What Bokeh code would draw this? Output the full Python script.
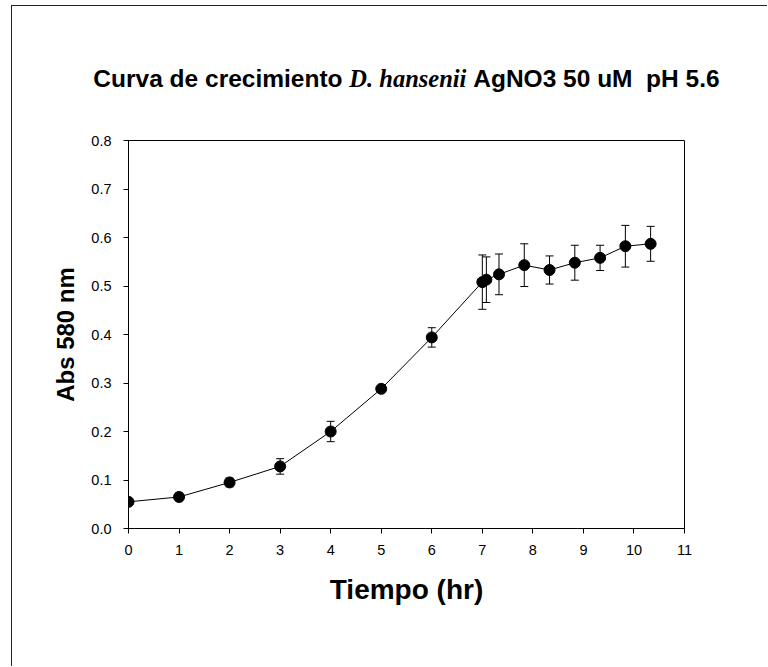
from bokeh.plotting import figure
from bokeh.models import (ColumnDataSource, Whisker, TeeHead, Label, FixedTicker,
                          NumeralTickFormatter, Range1d)
from bokeh.embed import file_html
from bokeh.resources import INLINE

# ---------------- data ----------------
tiempo = [0, 1, 2, 3, 4, 5, 6, 7.0, 7.08, 7.33, 7.83, 8.33, 8.83, 9.33, 9.83, 10.33]
absorbancia = [0.055, 0.065, 0.095, 0.128, 0.200, 0.288, 0.394, 0.508, 0.513,
               0.524, 0.543, 0.533, 0.548, 0.558, 0.582, 0.587]
error = [0.004, 0.008, 0.009, 0.016, 0.021, 0.005, 0.020, 0.056, 0.047,
         0.042, 0.044, 0.029, 0.036, 0.026, 0.043, 0.036]
x_ticks = [0, 1, 2, 3, 4, 5, 6, 7, 8, 9, 10, 11]
y_ticks = [0.0, 0.1, 0.2, 0.3, 0.4, 0.5, 0.6, 0.7, 0.8]
title_parts = ["Curva de crecimiento", "D. hansenii", "AgNO3 50 uM", "pH 5.6"]
x_label = "Tiempo (hr)"
y_label = "Abs 580 nm"

lower = [a - e for a, e in zip(absorbancia, error)]
upper = [a + e for a, e in zip(absorbancia, error)]
src = ColumnDataSource(dict(x=tiempo, y=absorbancia, lower=lower, upper=upper))

# ---------------- layout constants ----------------
W = 756
TITLE_H = 100
MAIN_H = 561
FL, FT, FW, FH = 116, 35, 556, 388   # frame inside main canvas
X0, X1 = 0, 11
Y0, Y1 = 0.0, 0.8
FONT = "Liberation Sans"
SERIF = "Liberation Serif"
BORDER = "1px solid #222222"

# ---------------- title strip (mixed fonts), separate root ----------------
pt = figure(width=W, height=TITLE_H, x_range=Range1d(0, W), y_range=Range1d(TITLE_H, 0),
            output_backend="svg", toolbar_location=None,
            x_axis_type=None, y_axis_type=None,
            min_border_left=0, min_border_right=0, min_border_top=0, min_border_bottom=0)
pt.outline_line_color = None
pt.xgrid.visible = False
pt.ygrid.visible = False
pt.background_fill_color = "white"
pt.border_fill_color = "white"
pt.margin = (5, 0, 0, 11)
pt.styles = {"border-left": BORDER, "border-top": BORDER}

TS = 24.5
# approximate advance widths (em) of each piece: Arial/Times-compatible metrics
widths = [10.17 * TS, 4.779 * TS, 6.501 * TS, 3.001 * TS]
gaps = [0.278 * TS, 0.278 * TS, 0.556 * TS]
fonts = [(FONT, "bold"), (SERIF, "bold italic"), (FONT, "bold"), (FONT, "bold")]
total = sum(widths) + sum(gaps)
center = FL + FW / 2
pos = center - total / 2
base_y = 72
for i, txt in enumerate(title_parts):
    fnt, sty = fonts[i]
    pt.add_layout(Label(x=pos, y=base_y, text=txt, text_font=fnt,
                        text_font_style=sty, text_font_size=f"{TS}px",
                        text_color="black", text_baseline="alphabetic",
                        text_align="left"))
    pos += widths[i] + (gaps[i] if i < len(gaps) else 0)

# ---------------- main chart ----------------
p = figure(width=W, height=MAIN_H, x_range=Range1d(X0, X1), y_range=Range1d(Y0, Y1),
           output_backend="svg", toolbar_location=None,
           min_border_left=FL, min_border_top=FT,
           min_border_right=W - FL - FW, min_border_bottom=MAIN_H - FT - FH)
p.margin = (0, 0, 0, 11)
p.styles = {"border-left": BORDER}
p.background_fill_color = "white"
p.border_fill_color = "white"
p.outline_line_color = "black"
p.outline_line_width = 1
p.xgrid.visible = False
p.ygrid.visible = False

for ax in (p.xaxis[0], p.yaxis[0]):
    ax.axis_line_color = "black"
    ax.major_tick_line_color = "black"
    ax.minor_tick_line_color = None
    ax.major_tick_out = 5
    ax.major_tick_in = 0
    ax.major_label_text_font = FONT
    ax.major_label_text_font_size = "14.5px"
    ax.major_label_text_color = "black"
    ax.axis_label_text_font = FONT
    ax.axis_label_text_font_style = "bold"
    ax.axis_label_text_color = "black"

p.xaxis.ticker = FixedTicker(ticks=x_ticks)
p.yaxis.ticker = FixedTicker(ticks=y_ticks)
p.yaxis.formatter = NumeralTickFormatter(format="0.0")
p.xaxis.axis_label = x_label
p.yaxis.axis_label = y_label
p.xaxis.axis_label_text_font_size = "28px"
p.yaxis.axis_label_text_font_size = "24px"
p.xaxis.major_label_standoff = 11
p.yaxis.major_label_standoff = 12
p.xaxis.axis_label_standoff = 16
p.yaxis.axis_label_standoff = 9

p.line("x", "y", source=src, line_color="black", line_width=1)
whisk = Whisker(source=src, base="x", upper="upper", lower="lower",
                line_color="black", line_width=1, level="underlay",
                upper_head=TeeHead(size=8, line_color="black", line_width=1),
                lower_head=TeeHead(size=8, line_color="black", line_width=1))
p.add_layout(whisk)
p.scatter("x", "y", source=src, size=11, fill_color="black", line_color="black")

open("out.html", "w").write(file_html([pt, p], INLINE))
